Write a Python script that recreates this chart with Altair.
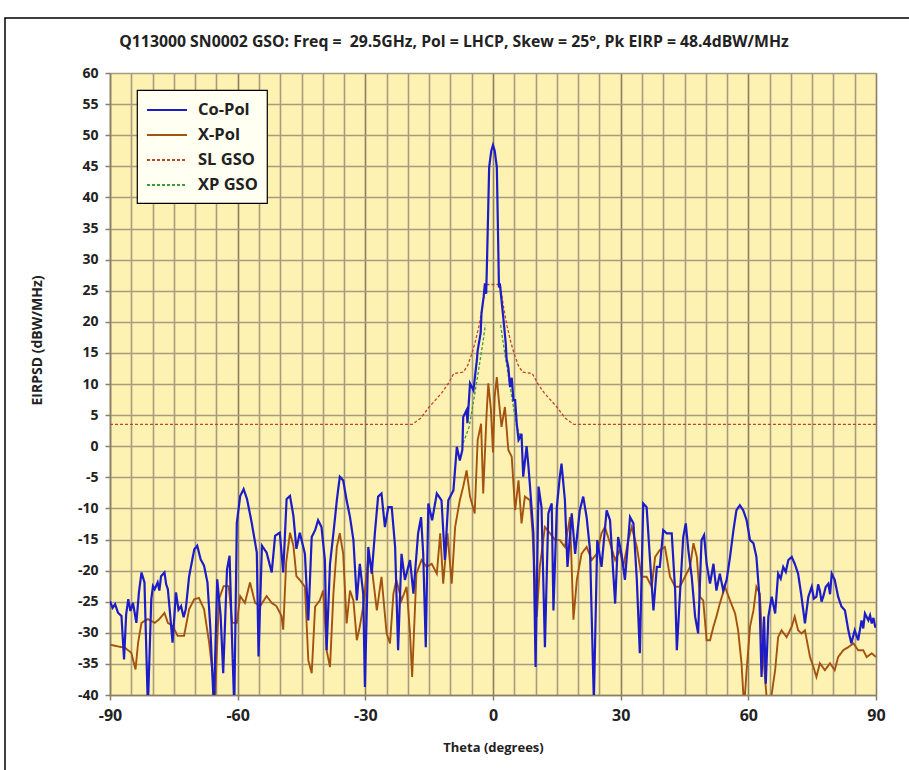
import altair as alt
import pandas as pd

TITLE = "Q113000 SN0002 GSO: Freq = \u00a029.5GHz, Pol = LHCP, Skew = 25°, Pk EIRP = 48.4dBW/MHz"
SERIES = ["Co-Pol", "X-Pol", "SL GSO", "XP GSO"]

# Co-polar EIRP density (dBW/MHz) versus off-axis angle (deg)
COPOL_THETA = [
    -90, -89.4, -88.8, -88.1, -87.3, -86.7, -86.2, -85.7, -85.2, -84.6, -83.8, -83.2, -82.6, -81.9, -81.1,
    -80.3, -79.9, -79.5, -78.8, -78.4, -78, -77.2, -76.8, -76.4, -75.7, -75.3, -74.5, -73.9, -73.3, -72.7,
    -72.2, -71.4, -70.2, -69.5, -68.7, -67.9, -67.1, -66.4, -65.6, -64.8,
    -64, -63.4, -62.5, -61.9, -61.3, -60.8, -60.2, -59.4, -58.6, -57.8, -56.7, -55.5, -55.1, -54.3, -53.2,
    -52, -51.2, -50.1, -49.3, -48.5, -47.7, -46.9, -46.2, -45.4, -44.2, -43.4, -42.6, -41.8, -41.1, -40.3,
    -39.5, -39.1, -38.3, -37.5, -36.7, -36.0, -35.2, -34.4, -33.6, -32.8, -32.0, -31.3, -30.5, -30.1, -29.3,
    -28.5, -27.7, -27.0, -26.2, -25.4, -24.6, -23.8, -23.0, -22.3, -21.5, -20.7, -19.5, -18.7, -17.6, -16.9,
    -16.4, -15.8, -15.2, -14.3, -13.2, -12.1, -11.3, -10.5, -9.3, -8.5, -7.8, -7.2, -7.0, -6.2, -6.0,
    -5.4, -4.6, -3.8, -3.6, -2.9, -2.7, -2.2, -1.9, -1.6, -1.4, -0.9, -0.4, 0, 0.4, 0.9,
    1.25, 1.4, 1.6, 2.0, 2.4, 3.0, 3.2, 3.6, 4.0, 4.4, 4.8, 5.2, 5.6, 6.0, 6.4,
    6.7, 7.1, 7.9, 8.3, 8.7, 9.5, 10.0, 10.7, 11.4, 12.2, 13.0, 13.8, 14.2, 15.0, 15.7,
    16.1, 16.9, 17.5, 18.5, 19.3, 20.4, 21.2, 22.0, 22.8, 23.7, 24.5, 25.5, 26.7, 27.5, 28.7,
    29.4, 30.2, 31.0, 32.2, 33.0, 33.8, 34.5, 35.3, 36.1, 36.9, 37.7, 38.5, 39.2, 40.0, 40.8,
    42.0, 42.8, 43.2, 43.9, 44.7, 45.3, 45.9, 46.7, 47.5, 48.2, 49.0, 49.6, 50.2, 51.0, 51.8,
    52.5, 53.3, 54.1, 54.9, 55.7, 56.5, 57.2, 58.0, 58.8, 59.6, 60.4, 61.2, 61.9, 62.6, 63.1,
    63.7, 64.1, 64.7, 65.5, 66.3, 67.0, 67.6, 68.2, 68.8, 69.4, 70.2, 70.9, 71.7, 72.5, 73.3, 74.1, 74.9,
    75.4, 76.0, 76.4, 76.8, 77.2, 77.6, 78.2, 78.8, 79.2, 79.6, 80.3, 81.1, 81.9, 82.7, 83.5, 84.2, 85.0,
    85.8, 86.6, 87.0, 87.4, 88.2, 88.6, 89.0, 89.4, 89.8, 90,
]
COPOL_EIRP = [
    -24.9, -26.0, -25.4, -26.8, -27.3, -34.3, -27.0, -24.6, -26.5, -25.2, -28.4, -23.5, -20.3, -21.9, -42,
    -24.6, -22.5, -23, -21.9, -23.2, -20.9, -20.3, -22.2, -23, -28.4, -31.6, -23.5, -26.3, -25.7, -27.5,
    -26.2, -20.9, -16.6, -16.0, -18.2, -19.2, -21.9, -29.5, -42, -21.4,
    -27.3, -36.5, -19.8, -17.6, -31.6, -42, -12.3, -8.0, -6.9, -8.5, -12.3, -17.1, -33.8, -16.0, -17.1,
    -20.3, -14.4, -13.9, -20.3, -8.5, -8.0, -11.2, -16.5, -13.9, -17.3, -28.0, -14.6, -13.5, -11.9, -13.0,
    -18.3, -32.8, -18.9, -14.0, -8.7, -4.9, -5.5, -8.7, -11.4, -15.1, -24.8, -18.9, -23.7, -38.7, -16.2,
    -20.5, -13.5, -8.1, -7.6, -13.0, -9.8, -9.8, -16.2, -32.8, -17.3, -21.5, -18.3, -23.7, -14.0, -11.4,
    -17.3, -32.3, -9.2, -11.9, -7.6, -8.7, -18.3, -8.7, -7.1, -0.1, -2.3, -0.6, 4.7, 5.8, 3.7,
    10.1, 9.0, 13.8, 15.4, 18.2, 21.4, 24.0, 26.2, 24.5, 29.9, 44.9, 47.5, 48.4, 47.5, 44.9,
    31.5, 25.5, 26.2, 23.5, 20.8, 16.5, 14.0, 12.7, 9.5, 11.0, 7.4, 7.4, 3.5, 1.0, 1.5,
    2.0, -4.9, 0.0, -3.0, -6.5, -14.0, -35.5, -6.5, -9.8, -32.3, -10.8, -9.2, -26.4, -9.8, -4.9,
    -2.8, -8.7, -19.4, -10.8, -17.3, -10.3, -8.1, -11.4, -16.7, -41, -15.1, -19.4, -10.3, -11.9, -25.3,
    -14.6, -17.3, -21.5, -11.4, -12.4, -21.5, -33.3, -9.2, -9.8, -18.3, -26.4, -19.4, -19.4, -13.5, -14.0,
    -14.0, -23.2, -32.8, -24.2, -14.6, -12.4, -16.7, -21.0, -27.4, -30.1, -15.1, -14.3, -18.9, -22.1, -18.9,
    -23.2, -20.5, -23.2, -21.5, -17.8, -13.5, -10.3, -9.5, -10.3, -11.9, -15.1, -15.6, -17.8, -24.2, -37.1,
    -27.4, -38.2, -27.4, -24.2, -26.9, -20.5, -21.3, -19.4, -20.2, -18.3, -17.8, -18.9, -20.5, -24.2, -28.5, -24.2, -22.6,
    -24.5, -24.2, -22.2, -23.2, -25.0, -24.2, -22.6, -22.1, -23.8, -20.5, -21.5, -24.2, -25.8, -26.4, -29.6, -31.7, -29.6,
    -31.2, -28.0, -29.3, -26.9, -28.0, -27.2, -28.5, -27.6, -29.0, -29.0,
]

# Cross-polar EIRP density (dBW/MHz)
XPOL_THETA = [
    -90, -88.1, -86.5, -85, -84, -83.4, -82.6, -81.1, -79.5, -78.4, -77.2, -76.4, -75.3, -74.1, -72.6,
    -71.4, -70.2, -69.1, -67.9, -66.7, -65.9, -65.4, -64.4, -63.3, -62.1, -61.3, -60.2, -59.4, -58.3, -57.1,
    -55.9, -54.7, -53.2, -52, -50.9, -49.7, -49.3, -48.6, -47.7, -46.9, -46.2, -45.4, -44.2, -43.4, -42.6,
    -41.8, -40.7, -39.9, -39.1, -38.3, -37.5, -36.7, -36.0, -35.2, -34.4, -33.6, -32.8, -32.0, -31.3, -30.5,
    -29.3, -28.5, -27.3, -26.2, -25.0, -24.2, -23.4, -22.7, -21.5, -20.3, -19.5, -19.0, -18.0, -16.8, -15.6,
    -14.4, -13.2, -12.4, -11.7, -10.7, -9.7, -8.9, -7.8, -7.0, -6.2, -5.4, -4.3, -3.6, -2.8, -2.3,
    -1.5, -1.1, -0.5, 0, 0.4, 0.9, 1.3, 2.0, 2.8, 3.6, 4.4, 5.2, 6.0, 6.7, 7.5,
    8.7, 9.3, 10.3, 11.0, 12.2, 13.4, 14.6, 15.7, 16.9, 18.1, 18.9, 19.7, 20.8, 22.0, 23.2,
    24.4, 25.5, 26.3, 27.5, 28.7, 29.8, 30.6, 31.8, 32.6, 33.8, 34.9, 36.1, 37.3, 38.1, 39.2,
    40.4, 41.6, 42.8, 43.9, 45.1, 46.3, 47.1, 47.9, 48.6, 49.4, 50.2, 51.0, 51.8, 52.5, 53.3,
    54.5, 55.7, 56.9, 57.6, 58.4, 59.0, 59.6, 60.4, 61.2, 61.9, 62.7, 63.3, 63.9, 64.5, 65.5,
    66.3, 67.0, 67.8, 69.0, 70.2, 70.9, 71.7, 72.5, 73.3, 74.5, 75.3, 76.0, 76.8, 78.0, 79.2,
    80.3, 81.1, 82.3, 83.5, 84.7, 85.8, 87.0, 87.8, 89.0, 90,
]
XPOL_EIRP = [
    -31.9, -32.2, -32.4, -33.2, -35.9, -31.6, -28.4, -27.8, -28.4, -27.8, -26.8, -28.4, -28.9, -30.5, -30.5,
    -26.2, -24.6, -24.4, -26.2, -31.6, -36.5, -42, -24.6, -22.5, -22.5, -28.4, -28.4, -24.1, -25.2, -21.9,
    -25.2, -25.7, -24.1, -25.2, -25.7, -27.3, -29.5, -18.7, -13.9, -16.0, -20.9, -21.5, -22.6, -34.4, -36.5,
    -25.8, -24.8, -23.2, -32.8, -35.5, -23.7, -16.2, -14.0, -17.3, -28.5, -23.2, -24.8, -31.2, -29.0, -25.8,
    -17.8, -19.4, -26.4, -21.0, -30.1, -31.7, -23.7, -21.5, -24.8, -22.6, -30.1, -37.1, -20.5, -18.3, -19.4,
    -18.9, -20.5, -14.0, -22.1, -14.0, -22.1, -13.0, -8.7, -6.5, -3.9, -8.1, -10.8, 1.0, 3.6, -7.6,
    5.3, 10.1, 6.0, -1.0, 8.0, 11.1, 7.9, 3.1, 6.3, -0.6, -1.7, -10.3, -5.5, -12.4, -8.1,
    -8.7, -14.0, -27.4, -19.4, -13.0, -14.0, -15.1, -15.1, -16.2, -11.4, -27.9, -21.5, -17.3, -16.2, -18.3,
    -17.3, -14.0, -13.0, -15.6, -18.3, -16.7, -19.4, -15.1, -13.0, -16.2, -21.0, -21.0, -22.6, -17.8, -16.7,
    -16.2, -21.0, -22.6, -22.6, -21.0, -19.4, -15.6, -17.8, -24.2, -24.8, -31.2, -31.2, -29.0, -27.4, -25.3,
    -22.6, -24.8, -26.9, -29.6, -34.9, -42, -36.0, -29.0, -26.4, -22.6, -23.7, -31.7, -37.1, -42, -39.8,
    -36.0, -30.7, -29.6, -30.7, -29.0, -27.4, -29.6, -30.1, -29.6, -33.9, -35.5, -37.1, -34.9, -36.0, -34.9,
    -36.0, -33.9, -32.8, -32.3, -31.7, -32.8, -32.8, -33.9, -33.3, -33.9,
]

# Co-polar sidelobe mask for GSO
SL_THETA = [-90, -19.0, -17.0, -15.0, -12.0, -10.5, -9.2, -7.0, -6.0, -5.0, -4.2, -3.3, -2.5, -1.7,
            1.7, 2.5, 3.3, 4.2, 5.0, 6.0, 7.0, 9.2, 10.5, 12.0, 15.0, 17.0, 19.0, 90]
SL_EIRP = [3.5, 3.5, 4.5, 6.3, 8.6, 10.1, 11.7, 11.9, 12.9, 14.8, 16.7, 19.3, 22.3, 26.0,
           26.0, 22.3, 19.3, 16.7, 14.8, 12.9, 11.9, 11.7, 10.1, 8.6, 6.3, 4.5, 3.5, 3.5]

# Cross-polar mask for GSO (one branch on each side of boresight)
XP_THETA = [-7.0, -5.6, -4.5, -3.1, -2.3, -1.8, 1.8, 2.3, 3.1, 4.5, 5.6, 7.0]
XP_EIRP = [0.5, 3.1, 7.5, 13.5, 17.0, 19.5, 19.5, 17.0, 13.5, 7.5, 3.1, 0.5]

rows = []
for name, th, ev in [("Co-Pol", COPOL_THETA, COPOL_EIRP), ("X-Pol", XPOL_THETA, XPOL_EIRP),
                     ("SL GSO", SL_THETA, SL_EIRP), ("XP GSO", XP_THETA, XP_EIRP)]:
    for i, (t, v) in enumerate(zip(th, ev)):
        branch = "L" if (name == "XP GSO" and t < 0) else "R"
        rows.append({"series": name, "theta": t, "eirp": v, "idx": i, "branch": branch})
df = pd.DataFrame(rows)

FONT = "Open Sans"
TXT = "#222222"
GRID_MAJOR = "#8a7f62"
GRID_MINOR = "#a89c7c"

x_enc = alt.X(
    "theta:Q",
    scale=alt.Scale(domain=[-90, 90], nice=False, zero=False),
    axis=alt.Axis(
        values=list(range(-90, 91, 5)),
        labelExpr="datum.value % 30 === 0 ? '' + datum.value : ''",
        labelFlush=False,
        tickColor={"condition": {"test": "datum.value % 30 === 0", "value": GRID_MAJOR},
                   "value": "transparent"},
        gridColor={"condition": {"test": "datum.value % 30 === 0", "value": GRID_MAJOR},
                   "value": GRID_MINOR},
        title="Theta (degrees)",
        titleY=52,
        titleBaseline="middle",
        titleFontSize=13,
        labelFontSize=16,
        labelPadding=7,
    ),
)
y_enc = alt.Y(
    "eirp:Q",
    scale=alt.Scale(domain=[-40, 60], nice=False, zero=False),
    axis=alt.Axis(
        values=list(range(-40, 61, 5)),
        labelExpr="'' + datum.value",
        labelFlush=False,
        gridColor=GRID_MINOR,
        tickColor=GRID_MAJOR,
        title="EIRPSD (dBW/MHz)",
        titleX=-73,
        titleY=267,
        titleAlign="center",
        titleBaseline="middle",
        titleFontSize=14,
        labelFontSize=14,
        labelPadding=7,
    ),
)
color_enc = alt.Color(
    "series:N",
    scale=alt.Scale(domain=SERIES, range=["#1c1cc8", "#a4520f", "#c0442c", "#3f9a37"]),
    legend=alt.Legend(title=None),
)
dash_enc = alt.StrokeDash(
    "series:N",
    scale=alt.Scale(domain=SERIES, range=[[1, 0], [1, 0], [3, 2], [3, 2]]),
    legend=alt.Legend(title=None),
)

base = alt.Chart(df)


def series_layer(name, width):
    return (
        base.transform_filter(alt.datum.series == name)
        .mark_line(strokeWidth=width, clip=True)
        .encode(x=x_enc, y=y_enc, color=color_enc, strokeDash=dash_enc,
                detail="branch:N", order="idx:Q")
    )


title_layer = alt.Chart(pd.DataFrame({"t": [TITLE]})).mark_text(
    font=FONT, fontSize=15.8, fontWeight="bold", color=TXT, align="center", baseline="middle"
).encode(text="t:N", x=alt.value(344), y=alt.value(-31))

frame_layer = alt.Chart(pd.DataFrame({"f": [0]})).mark_rect(
    fill="transparent", stroke="#000000", strokeWidth=1.5
).encode(x=alt.value(-105), x2=alt.value(820), y=alt.value(-55), y2=alt.value(720))

chart = (
    alt.layer(
        frame_layer,
        series_layer("SL GSO", 1.3),
        series_layer("XP GSO", 1.3),
        series_layer("X-Pol", 1.9),
        series_layer("Co-Pol", 2.2),
        title_layer,
    )
    .properties(width=766, height=622, autosize=alt.AutoSizeParams(type="none"),
                padding={"left": 110, "top": 73, "right": 33, "bottom": 75},
                background="white")
    .configure_view(fill="#fdf2b2", stroke=GRID_MAJOR, strokeWidth=1)
    .configure_axis(
        labelFont=FONT, titleFont=FONT, labelFontWeight="bold", titleFontWeight="bold",
        labelColor=TXT, titleColor=TXT,
        domainColor=GRID_MAJOR, gridWidth=1.6, tickSize=5, tickWidth=1.5, domainWidth=1.5,
    )
    .configure_legend(
        orient="none", legendX=27, legendY=17, padding=9, rowPadding=5,
        fillColor="#fffff2", strokeColor="#000000", strokeWidth=1.2,
        symbolType="M-1,0H3", symbolSize=400, symbolStrokeWidth=2,
        labelFont=FONT, labelFontSize=16.5, labelFontWeight="bold", labelColor=TXT, labelOffset=30,
    )
)

chart.save("out.html", embed_options={"renderer": "svg", "actions": False})
